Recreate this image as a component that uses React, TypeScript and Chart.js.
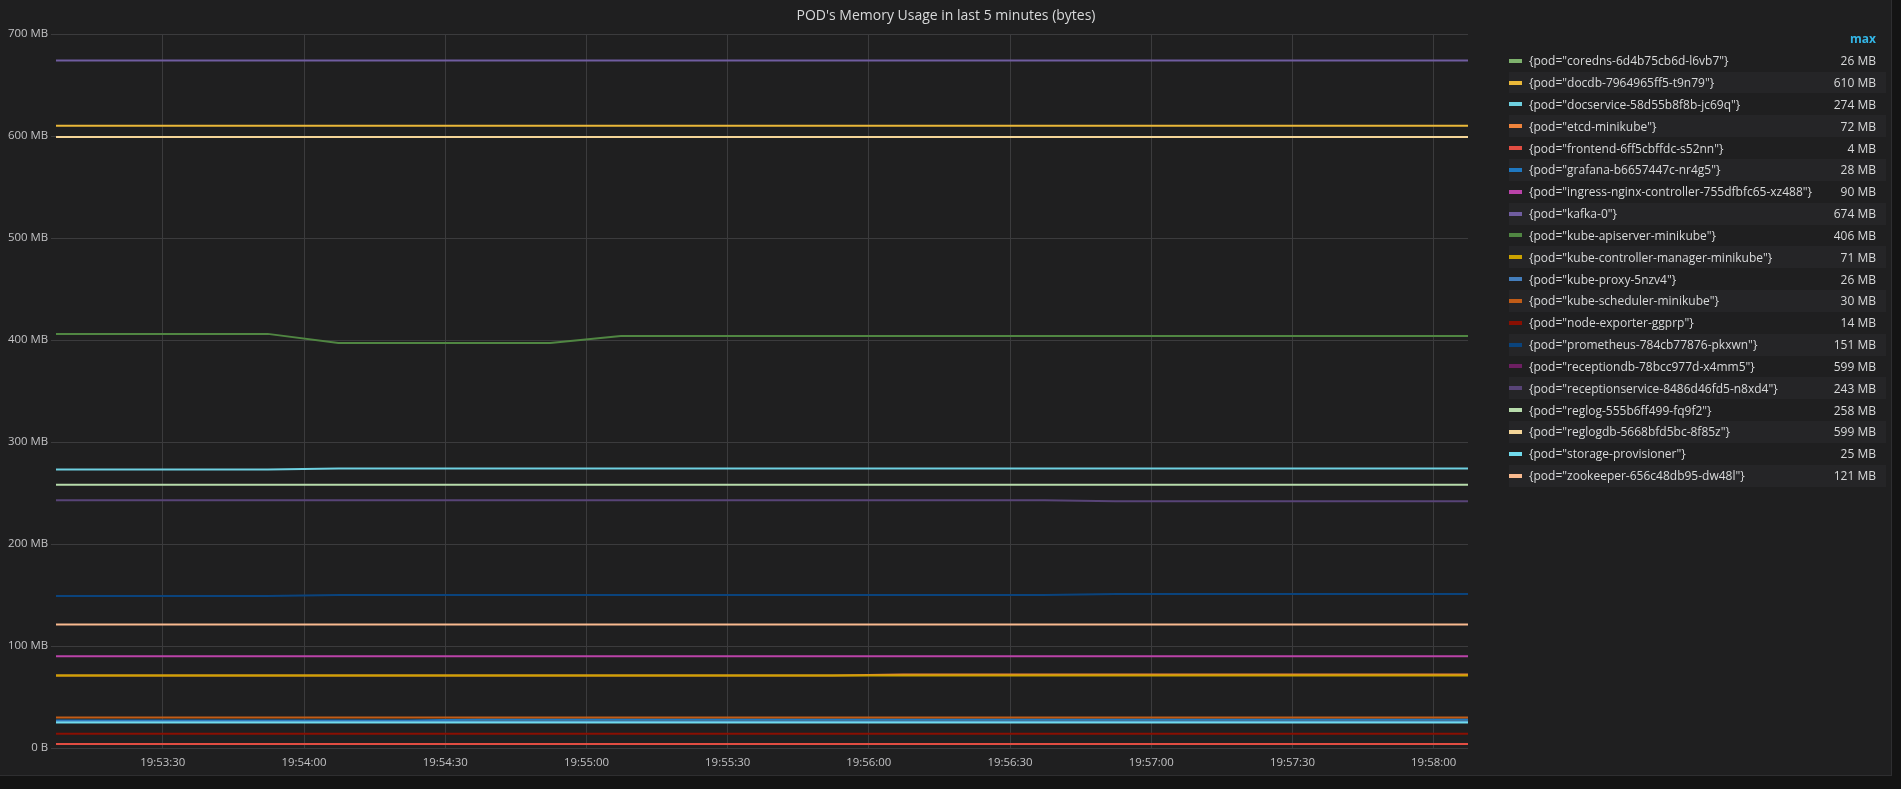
import React, { useEffect, useRef } from "react";
import { Chart, registerables } from "chart.js";

Chart.register(...registerables);

// ---------- data ----------
const sampleTimes = [
  "19:53:07.3", "19:53:22.3", "19:53:37.3", "19:53:52.3", "19:54:07.3",
  "19:54:22.3", "19:54:37.3", "19:54:52.3", "19:55:07.3", "19:55:22.3",
  "19:55:37.3", "19:55:52.3", "19:56:07.3", "19:56:22.3", "19:56:37.3",
  "19:56:52.3", "19:57:07.3", "19:57:22.3", "19:57:37.3", "19:57:52.3",
  "19:58:07.3",
];

const xTickLabels = [
  "19:53:30", "19:54:00", "19:54:30", "19:55:00", "19:55:30",
  "19:56:00", "19:56:30", "19:57:00", "19:57:30", "19:58:00",
];

const yTickValues = [0, 100, 200, 300, 400, 500, 600, 700];

const seriesNames = [
  '{pod="coredns-6d4b75cb6d-l6vb7"}',
  '{pod="docdb-7964965ff5-t9n79"}',
  '{pod="docservice-58d55b8f8b-jc69q"}',
  '{pod="etcd-minikube"}',
  '{pod="frontend-6ff5cbffdc-s52nn"}',
  '{pod="grafana-b6657447c-nr4g5"}',
  '{pod="ingress-nginx-controller-755dfbfc65-xz488"}',
  '{pod="kafka-0"}',
  '{pod="kube-apiserver-minikube"}',
  '{pod="kube-controller-manager-minikube"}',
  '{pod="kube-proxy-5nzv4"}',
  '{pod="kube-scheduler-minikube"}',
  '{pod="node-exporter-ggprp"}',
  '{pod="prometheus-784cb77876-pkxwn"}',
  '{pod="receptiondb-78bcc977d-x4mm5"}',
  '{pod="receptionservice-8486d46fd5-n8xd4"}',
  '{pod="reglog-555b6ff499-fq9f2"}',
  '{pod="reglogdb-5668bfd5bc-8f85z"}',
  '{pod="storage-provisioner"}',
  '{pod="zookeeper-656c48db95-dw48l"}',
];

const seriesColors = [
  "#7EB26D", "#EAB839", "#6ED0E0", "#EF843C", "#E24D42",
  "#1F78C1", "#BA43A9", "#705DA0", "#508642", "#CCA300",
  "#447EBC", "#C15C17", "#890F02", "#0A437C", "#6D1F62",
  "#584477", "#B7DBAB", "#F4D598", "#70DBED", "#F9BA8F",
];

const legendMax = [
  "26 MB", "610 MB", "274 MB", "72 MB", "4 MB", "28 MB", "90 MB", "674 MB",
  "406 MB", "71 MB", "26 MB", "30 MB", "14 MB", "151 MB", "599 MB", "243 MB",
  "258 MB", "599 MB", "25 MB", "121 MB",
];

// values in MB, one per sample time
const corednsMB = [26, 26, 26, 26, 26, 26, 26, 26, 26, 26, 26, 26, 26, 26, 26, 26, 26, 26, 26, 26, 26];
const docdbMB = [610, 610, 610, 610, 610, 610, 610, 610, 610, 610, 610, 610, 610, 610, 610, 610, 610, 610, 610, 610, 610];
const docserviceMB = [273, 273, 273, 273, 274, 274, 274, 274, 274, 274, 274, 274, 274, 274, 274, 274, 274, 274, 274, 274, 274];
const etcdMB = [71, 71, 71, 71, 71, 71, 71, 71, 71, 71, 71, 71, 72, 72, 72, 72, 72, 72, 72, 72, 72];
const frontendMB = [4, 4, 4, 4, 4, 4, 4, 4, 4, 4, 4, 4, 4, 4, 4, 4, 4, 4, 4, 4, 4];
const grafanaMB = [27, 27, 27, 27, 27, 27, 28, 28, 28, 28, 28, 28, 28, 28, 28, 28, 28, 28, 28, 28, 28];
const ingressMB = [90, 90, 90, 90, 90, 90, 90, 90, 90, 90, 90, 90, 90, 90, 90, 90, 90, 90, 90, 90, 90];
const kafkaMB = [674, 674, 674, 674, 674, 674, 674, 674, 674, 674, 674, 674, 674, 674, 674, 674, 674, 674, 674, 674, 674];
const apiserverMB = [406, 406, 406, 406, 397, 397, 397, 397, 404, 404, 404, 404, 404, 404, 404, 404, 404, 404, 404, 404, 404];
const controllerMB = [71, 71, 71, 71, 71, 71, 71, 71, 71, 71, 71, 71, 71, 71, 71, 71, 71, 71, 71, 71, 71];
const kubeProxyMB = [26, 26, 26, 26, 26, 26, 26, 26, 26, 26, 26, 26, 26, 26, 26, 26, 26, 26, 26, 26, 26];
const schedulerMB = [30, 30, 30, 30, 30, 30, 30, 30, 30, 30, 30, 30, 30, 30, 30, 30, 30, 30, 30, 30, 30];
const nodeExporterMB = [14, 14, 14, 14, 14, 14, 14, 14, 14, 14, 14, 14, 14, 14, 14, 14, 14, 14, 14, 14, 14];
const prometheusMB = [149, 149, 149, 149, 150, 150, 150, 150, 150, 150, 150, 150, 150, 150, 150, 151, 151, 151, 151, 151, 151];
const receptiondbMB = [599, 599, 599, 599, 599, 599, 599, 599, 599, 599, 599, 599, 599, 599, 599, 599, 599, 599, 599, 599, 599];
const receptionserviceMB = [243, 243, 243, 243, 243, 243, 243, 243, 243, 243, 243, 243, 243, 243, 243, 242, 242, 242, 242, 242, 242];
const reglogMB = [258, 258, 258, 258, 258, 258, 258, 258, 258, 258, 258, 258, 258, 258, 258, 258, 258, 258, 258, 258, 258];
const reglogdbMB = [599, 599, 599, 599, 599, 599, 599, 599, 599, 599, 599, 599, 599, 599, 599, 599, 599, 599, 599, 599, 599];
const storageMB = [25, 25, 25, 25, 25, 25, 25, 25, 25, 25, 25, 25, 25, 25, 25, 25, 25, 25, 25, 25, 25];
const zookeeperMB = [121, 121, 121, 121, 121, 121, 121, 121, 121, 121, 121, 121, 121, 121, 121, 121, 121, 121, 121, 121, 121];

const seriesValues = [
  corednsMB, docdbMB, docserviceMB, etcdMB, frontendMB, grafanaMB, ingressMB,
  kafkaMB, apiserverMB, controllerMB, kubeProxyMB, schedulerMB, nodeExporterMB,
  prometheusMB, receptiondbMB, receptionserviceMB, reglogMB, reglogdbMB,
  storageMB, zookeeperMB,
];

const TITLE = "POD's Memory Usage in last 5 minutes (bytes)";

// ---------- helpers ----------
const toSec = (s: string) => {
  const [h, m, sec] = s.split(":");
  return Number(h) * 3600 + Number(m) * 60 + Number(sec);
};
const pad2 = (n: number) => String(n).padStart(2, "0");
const fmtTime = (v: number) => {
  const t = Math.round(v);
  return `${pad2(Math.floor(t / 3600))}:${pad2(Math.floor((t % 3600) / 60))}:${pad2(t % 60)}`;
};

const PANEL_W = 1892;
const PANEL_H = 776;
const FONT = "'Open Sans', 'Noto Sans', sans-serif";
const GRID = "#3b3b3d";

export default function App() {
  const canvasRef = useRef<HTMLCanvasElement | null>(null);

  useEffect(() => {
    document.body.style.margin = "0";
    const ctx = canvasRef.current;
    if (!ctx) return;
    const xs = sampleTimes.map(toSec);
    const xTickVals = xTickLabels.map(toSec);
    const chart = new Chart(ctx, {
      type: "line",
      data: {
        datasets: seriesNames.map((name, i) => ({
          label: name,
          data: xs.map((x, j) => ({ x, y: seriesValues[i][j] })),
          borderColor: seriesColors[i],
          backgroundColor: seriesColors[i],
          borderWidth: 2,
          pointRadius: 0,
          tension: 0,
          fill: false,
          order: seriesNames.length - 1 - i,
        })),
      },
      options: {
        animation: false,
        responsive: false,
        maintainAspectRatio: false,
        layout: { padding: { top: 34, right: PANEL_W - 1468, bottom: 6, left: 0 } },
        plugins: {
          legend: { display: false },
          title: { display: false },
          tooltip: { enabled: false },
        },
        scales: {
          x: {
            type: "linear",
            min: xs[0],
            max: xs[xs.length - 1],
            border: { display: false },
            grid: { color: GRID, lineWidth: 1, drawTicks: false },
            ticks: {
              autoSkip: false,
              maxRotation: 0,
              padding: 8,
              color: "#c2c2c4",
              font: { family: FONT, size: 11.4 },
              callback: (v: any) => fmtTime(Number(v)),
            },
            afterBuildTicks: (scale: any) => {
              scale.ticks = xTickVals.map((value) => ({ value }));
            },
            afterFit: (scale: any) => {
              scale.height = 22;
            },
          },
          y: {
            type: "linear",
            min: 0,
            max: 700,
            border: { display: false },
            grid: { color: GRID, lineWidth: 1, tickLength: 5 },
            ticks: {
              padding: 3,
              color: "#c2c2c4",
              font: { family: FONT, size: 11.4 },
              callback: (v: any) => (Number(v) === 0 ? "0 B" : `${v} MB`),
            },
            afterBuildTicks: (scale: any) => {
              scale.ticks = yTickValues.map((value) => ({ value }));
            },
            afterFit: (scale: any) => {
              scale.width = 56;
            },
          },
        },
      },
    } as any);
    return () => chart.destroy();
  }, []);

  const ROW_H = 21.84;
  const LEG_LEFT = 1509;
  const LEG_W = 377;
  const LEG_TOP = 49.8;

  return (
    <div
      style={{
        position: "fixed",
        left: 0,
        top: 0,
        width: 1901,
        height: 789,
        background: "#141414",
        overflow: "hidden",
        fontFamily: FONT,
      }}
    >
      <div
        style={{
          position: "absolute",
          left: 0,
          top: 0,
          width: PANEL_W - 1,
          height: PANEL_H - 1,
          background: "#1f1f20",
          borderRight: "1px solid #2e2e30",
          borderBottom: "1px solid #2e2e30",
        }}
      >
        <canvas
          ref={canvasRef}
          width={PANEL_W}
          height={PANEL_H}
          style={{ position: "absolute", left: 0, top: 0, width: PANEL_W, height: PANEL_H }}
        />
        <div
          style={{
            position: "absolute",
            left: 0,
            top: 0,
            width: PANEL_W,
            height: 30,
            lineHeight: "30px",
            textAlign: "center",
            color: "#d8d9da",
            fontSize: 14,
            fontWeight: 500,
          }}
        >
          {TITLE}
        </div>
        <div
          style={{
            position: "absolute",
            left: LEG_LEFT,
            top: LEG_TOP - ROW_H,
            width: LEG_W - 10,
            height: ROW_H,
            lineHeight: `${ROW_H}px`,
            textAlign: "right",
            color: "#33b5e5",
            fontWeight: 700,
            fontSize: 12,
          }}
        >
          max
        </div>
        {seriesNames.map((name, i) => (
          <div
            key={name}
            style={{
              position: "absolute",
              left: LEG_LEFT,
              top: LEG_TOP + i * ROW_H,
              width: LEG_W,
              height: ROW_H,
              background: i % 2 === 1 ? "#252527" : "transparent",
              display: "flex",
              alignItems: "center",
              fontSize: 12,
              color: "#d8d9da",
              whiteSpace: "nowrap",
            }}
          >
            <div style={{ width: 13, height: 4, background: seriesColors[i], marginRight: 7, flex: "none" }} />
            <div style={{ flex: 1 }}>{name}</div>
            <div style={{ paddingRight: 10 }}>{legendMax[i]}</div>
          </div>
        ))}
      </div>
    </div>
  );
}
